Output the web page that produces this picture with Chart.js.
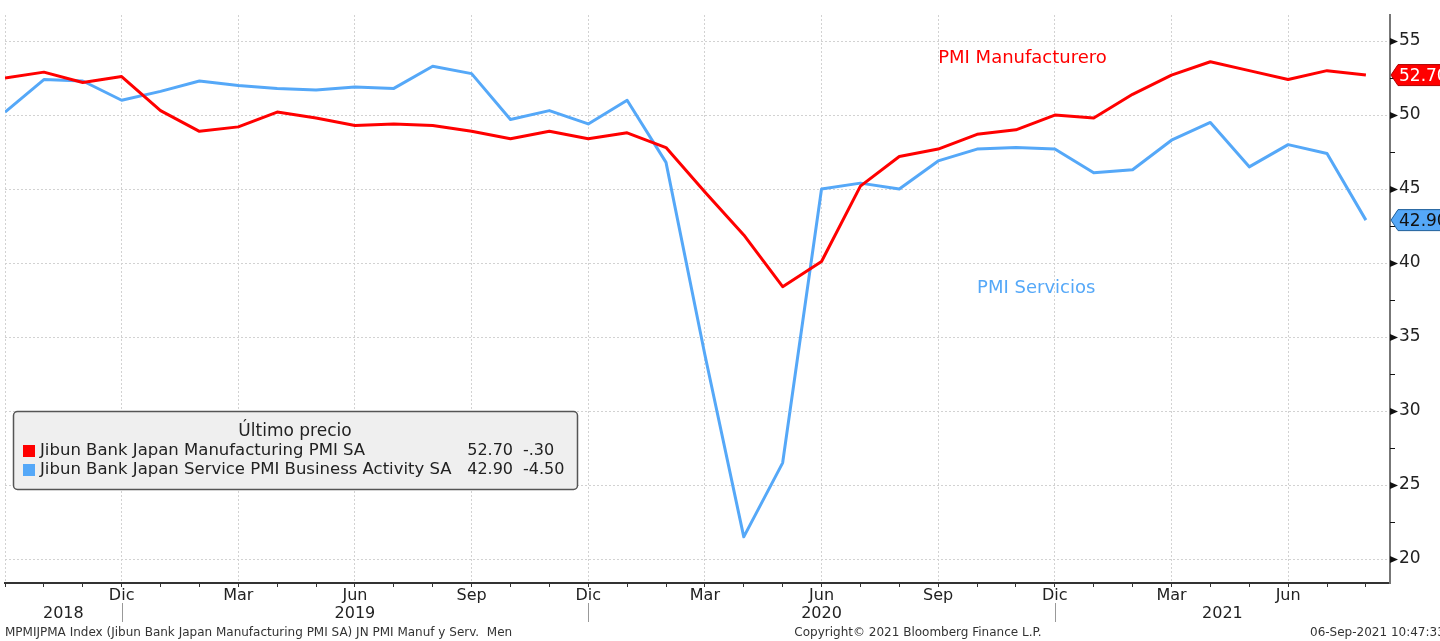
<!DOCTYPE html>
<html>
<head>
<meta charset="utf-8">
<script src="https://cdn.jsdelivr.net/npm/chart.js@4.4.1/dist/chart.umd.min.js"></script>
<style>
  html, body { margin: 0; padding: 0; background: #fff; }
  #wrap { width: 1440px; height: 641px; }
</style>
</head>
<body>
<div id="wrap"><canvas id="pmi" width="1440" height="641"></canvas></div>
<script>
// Sep 2018 .. Aug 2021, monthly
const months = ['Sep','Oct','Nov','Dic','Ene','Feb','Mar','Abr','May','Jun','Jul','Ago',
                'Sep','Oct','Nov','Dic','Ene','Feb','Mar','Abr','May','Jun','Jul','Ago',
                'Sep','Oct','Nov','Dic','Ene','Feb','Mar','Abr','May','Jun','Jul','Ago'];
const shownMonths = ['Dic','Mar','Jun','Sep'];
const years = ['2018','2019','2020','2021'];
const yearStarts = [0, 3, 15, 27]; // month index where each year block begins

const manuf = [52.5,52.9,52.2,52.6,
  50.3,48.9,49.2,50.2,49.8,49.3,49.4,49.3,48.9,48.4,48.9,48.4,
  48.8,47.8,44.8,41.9,38.4,40.1,45.2,47.2,47.7,48.7,49.0,50.0,
  49.8,51.4,52.7,53.6,53.0,52.4,53.0,52.7];
const serv = [50.2,52.4,52.3,51.0,
  51.6,52.3,52.0,51.8,51.7,51.9,51.8,53.3,52.8,49.7,50.3,49.4,
  51.0,46.8,33.8,21.5,26.5,45.0,45.4,45.0,46.9,47.7,47.8,47.7,
  46.1,46.3,48.3,49.5,46.5,48.0,47.4,42.9];

const yTicks = [20,22.5,25,27.5,30,32.5,35,37.5,40,42.5,45,47.5,50,52.5,55];

const seriesNames = ['Jibun Bank Japan Manufacturing PMI SA', 'Jibun Bank Japan Service PMI Business Activity SA'];
const RED = '#ff0000';
const BLUE = '#55a8f8';
const FONT = "'DejaVu Sans', sans-serif";

function fmtChg(d) {
  const s = Math.abs(d).toFixed(2).replace(/^0/, '');
  return (d < 0 ? '-' : '') + s;
}

const decor = {
  id: 'decor',
  afterDraw(chart) {
    const {ctx, chartArea: a, scales: {x, y}} = chart;
    ctx.save();

    // right axis tick marks
    ctx.fillStyle = '#111';
    y.ticks.forEach(t => {
      const py = Math.round(y.getPixelForValue(t.value)) + 0.5;
      if (t.value % 5 === 0) {
        ctx.beginPath();
        ctx.moveTo(a.right, py - 3.5);
        ctx.lineTo(a.right + 8, py);
        ctx.lineTo(a.right, py + 3.5);
        ctx.closePath();
        ctx.fill();
      } else {
        ctx.fillRect(a.right, py - 0.5, 5, 1);
      }
    });

    // year row + separators
    ctx.font = '16px ' + FONT;
    ctx.fillStyle = '#222';
    ctx.textAlign = 'center';
    ctx.textBaseline = 'middle';
    years.forEach((yr, i) => {
      const x0 = x.getPixelForValue(yearStarts[i]);
      const x1 = i + 1 < years.length ? x.getPixelForValue(yearStarts[i + 1]) : a.right;
      ctx.fillText(yr, (x0 + x1) / 2, 614);
    });
    ctx.strokeStyle = '#999';
    ctx.lineWidth = 1;
    yearStarts.slice(1).forEach(v => {
      const px = Math.round(x.getPixelForValue(v)) + 0.5;
      ctx.beginPath();
      ctx.moveTo(px, 603);
      ctx.lineTo(px, 622);
      ctx.stroke();
    });

    // series annotations
    ctx.font = '18px ' + FONT;
    ctx.textAlign = 'left';
    ctx.fillStyle = RED;
    ctx.fillText('PMI Manufacturero', x.getPixelForValue(24.0), y.getPixelForValue(53.8));
    ctx.fillStyle = BLUE;
    ctx.fillText('PMI Servicios', x.getPixelForValue(25.0), y.getPixelForValue(38.3));

    // last value tags
    const tags = [
      {v: manuf[manuf.length - 1], fill: RED, stroke: '#b00000', text: '#fff'},
      {v: serv[serv.length - 1], fill: BLUE, stroke: '#1f5f99', text: '#111'}
    ];
    tags.forEach(t => {
      const py = y.getPixelForValue(t.v);
      ctx.beginPath();
      ctx.moveTo(a.right + 1, py);
      ctx.lineTo(a.right + 8, py - 10.5);
      ctx.lineTo(1450, py - 10.5);
      ctx.lineTo(1450, py + 10.5);
      ctx.lineTo(a.right + 8, py + 10.5);
      ctx.closePath();
      ctx.fillStyle = t.fill;
      ctx.fill();
      ctx.strokeStyle = t.stroke;
      ctx.lineWidth = 1;
      ctx.stroke();
      ctx.font = '17px ' + FONT;
      ctx.fillStyle = t.text;
      ctx.textAlign = 'left';
      ctx.fillText(t.v.toFixed(2), a.right + 9, py + 1);
    });

    // legend box
    ctx.beginPath();
    ctx.roundRect(13.5, 411.5, 564, 78, 4);
    ctx.fillStyle = '#efefef';
    ctx.fill();
    ctx.strokeStyle = '#555';
    ctx.lineWidth = 1.5;
    ctx.stroke();
    ctx.font = '17px ' + FONT;
    ctx.fillStyle = '#222';
    ctx.textAlign = 'center';
    ctx.fillText('Último precio', 295, 432);
    const rows = [
      {name: seriesNames[0], data: manuf, color: RED, y: 451},
      {name: seriesNames[1], data: serv, color: BLUE, y: 470}
    ];
    rows.forEach(r => {
      const last = r.data[r.data.length - 1];
      const prev = r.data[r.data.length - 2];
      ctx.fillStyle = r.color;
      ctx.fillRect(23, r.y - 6, 12, 12);
      ctx.fillStyle = '#222';
      ctx.textAlign = 'left';
      ctx.font = '16.5px ' + FONT;
      ctx.fillText(r.name, 40, r.y);
      ctx.font = '16px ' + FONT;
      ctx.textAlign = 'right';
      ctx.fillText(last.toFixed(2), 513, r.y);
      ctx.textAlign = 'left';
      ctx.fillText(fmtChg(last - prev), 523, r.y);
    });

    // footer
    ctx.font = '12px ' + FONT;
    ctx.fillStyle = '#333';
    ctx.textAlign = 'left';
    ctx.fillText('MPMIJPMA Index (Jibun Bank Japan Manufacturing PMI SA) JN PMI Manuf y Serv.  Men', 5, 633);
    ctx.textAlign = 'center';
    ctx.fillText('Copyright\u00a9 2021 Bloomberg Finance L.P.', 918, 633);
    ctx.textAlign = 'left';
    ctx.fillText('06-Sep-2021 10:47:33', 1310, 633);

    ctx.restore();
  }
};

new Chart(document.getElementById('pmi'), {
  type: 'line',
  data: {
    datasets: [
      {
        label: seriesNames[0],
        data: manuf.map((v, i) => ({x: i, y: v})),
        borderColor: RED,
        borderWidth: 3,
        pointRadius: 0,
        tension: 0,
        borderJoinStyle: 'round'
      },
      {
        label: seriesNames[1],
        data: serv.map((v, i) => ({x: i, y: v})),
        borderColor: BLUE,
        borderWidth: 3,
        pointRadius: 0,
        tension: 0,
        borderJoinStyle: 'round'
      }
    ]
  },
  options: {
    responsive: false,
    animation: false,
    devicePixelRatio: 1,
    layout: { padding: { left: 5, top: 15, right: 0, bottom: 0 } },
    plugins: { legend: { display: false }, tooltip: { enabled: false } },
    scales: {
      x: {
        type: 'linear',
        min: 0,
        max: 35.62,
        afterBuildTicks: s => { s.ticks = months.map((m, i) => ({value: i})); },
        afterFit: s => { s.height = 58; s.paddingLeft = 0; s.paddingRight = 0; },
        ticks: {
          autoSkip: false,
          maxRotation: 0,
          minRotation: 0,
          padding: -1,
          color: '#222',
          font: { size: 16, family: FONT },
          callback: v => (v > 0 && shownMonths.includes(months[v])) ? months[v] : ''
        },
        grid: {
          color: c => (c.tick && c.tick.value % 3 === 0) ? '#d2d2d2' : 'rgba(0,0,0,0)',
          lineWidth: 1,
          tickColor: '#333',
          tickLength: 4
        },
        border: { display: true, color: '#333', width: 2, dash: [2, 2] }
      },
      y: {
        position: 'right',
        min: 18.38,
        max: 56.76,
        afterBuildTicks: s => { s.ticks = yTicks.map(v => ({value: v})); },
        afterFit: s => { s.width = 50; s.paddingTop = 0; s.paddingBottom = 0; },
        ticks: {
          padding: 9,
          color: '#222',
          font: { size: 17, family: FONT },
          callback: v => v % 5 === 0 ? String(v) : ''
        },
        grid: {
          color: c => (c.tick && c.tick.value % 5 === 0) ? '#d2d2d2' : 'rgba(0,0,0,0)',
          lineWidth: 1,
          drawTicks: false
        },
        border: { display: true, color: '#777', width: 2, dash: [2, 2] }
      }
    }
  },
  plugins: [decor]
});
</script>
</body>
</html>
